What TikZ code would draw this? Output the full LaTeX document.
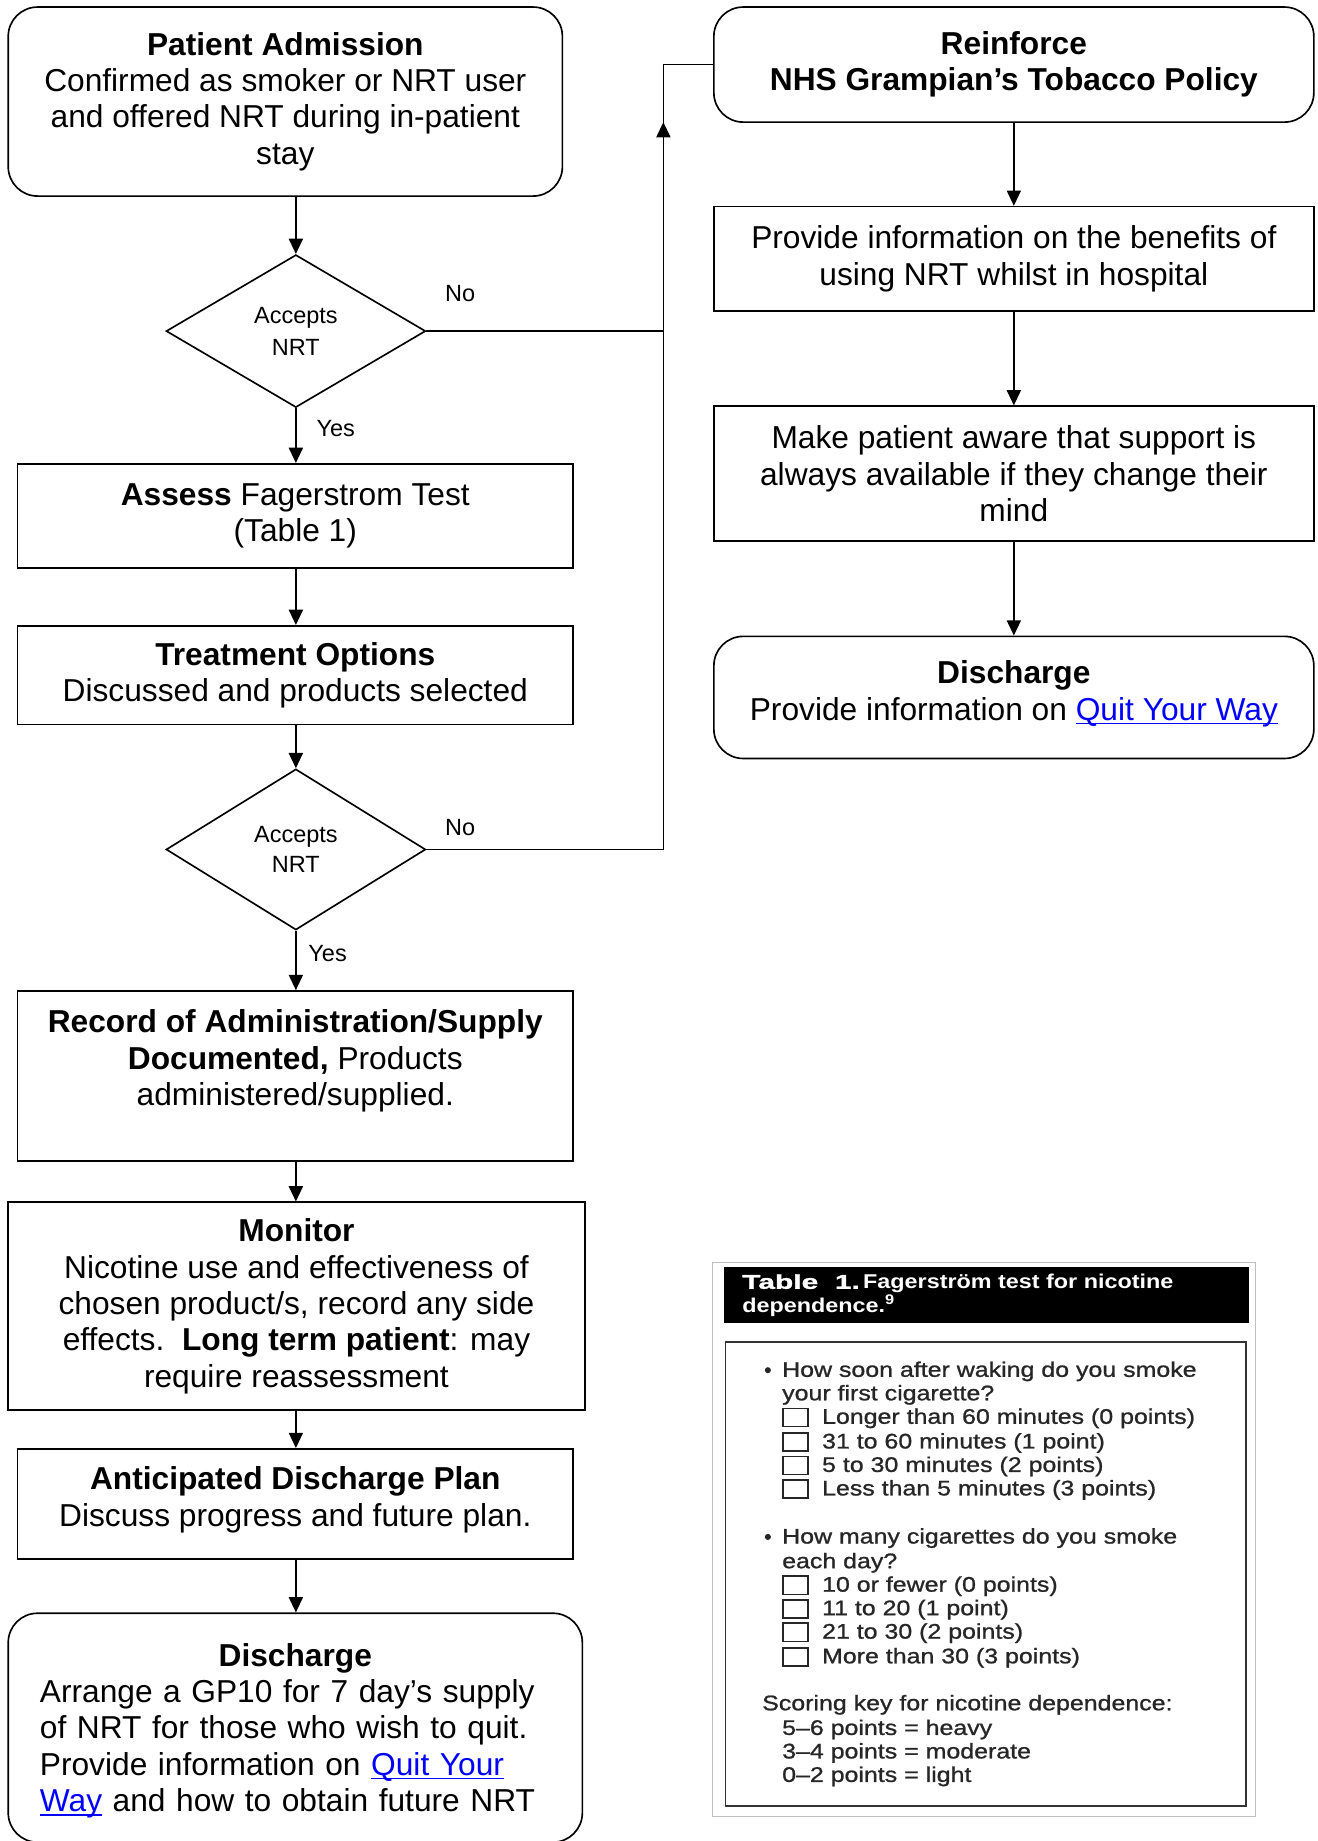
\documentclass[tikz,border=0pt]{standalone}
\usepackage{fontspec}
\setmainfont{Liberation Sans}
\newfontfamily\tblfont[FakeStretch=1.18,FakeBold=1]{Liberation Sans}
\newfontfamily\hdrfont[FakeStretch=1.17]{Liberation Sans}
\newfontfamily\hdrblack[FakeStretch=1.5,FakeBold=1.5]{Liberation Sans Bold}
\usetikzlibrary{shapes.geometric,arrows.meta}
\definecolor{linkblue}{RGB}{0,0,255}
\newsavebox\lnkbox
\newcommand\lnk[1]{\textcolor{linkblue}{\sbox\lnkbox{#1}\rlap{\rule[-3.5pt]{\wd\lnkbox}{1.3pt}}\usebox\lnkbox}}
\begin{document}
\begin{tikzpicture}[x=1pt,y=-1pt,
  box/.style={draw, line width=1.4pt, rectangle, align=center, inner sep=0pt,
    font=\fontsize{27}{31}\selectfont},
  rbox/.style={box, rounded corners=25pt},
  txt/.style={inner sep=0pt, font=\fontsize{27}{31}\selectfont},
  dec/.style={draw, line width=1.4pt, diamond, align=center, inner sep=1pt,
    minimum width=221pt, minimum height=130pt, font=\fontsize{20}{25}\selectfont},
  arr/.style={line width=1.4pt, -{Triangle[length=13pt,width=12pt]}},
  conn/.style={line width=1.4pt},
  lbl/.style={font=\fontsize{20}{24}\selectfont, inner sep=0pt},
  tt/.style={anchor=mid west, inner sep=0pt, text=black!85,
    font=\tblfont\fontsize{18}{20}\selectfont},
  ht/.style={anchor=mid west, inner sep=0pt, text=white,
    font=\hdrfont\bfseries\fontsize{17}{20}\selectfont},
  cbox/.style={draw=black!85, line width=1.3pt}
]
\fill[white] (0,0) rectangle (1122,1568);
\useasboundingbox (0,0) rectangle (1122,1568);

% ---------- left column ----------
\node[rbox, minimum width=472pt, minimum height=161pt] (pa) at (243,86.5)
  {\textbf{Patient Admission}\\Confirmed as smoker or NRT user\\and offered NRT during in-patient\\stay};
\node[dec, font=\fontsize{20}{27}\selectfont] (d1) at (252,282) {Accepts\\NRT};
\node[box, minimum width=473pt, minimum height=89pt] (as) at (251.5,439.5)
  {\textbf{Assess} Fagerstrom Test\\(Table 1)};
\node[box, minimum width=473pt, minimum height=84pt] (to) at (251.5,575)
  {\textbf{Treatment Options}\\Discussed and products selected};
\node[dec, minimum height=137pt] (d2) at (252,723.5) {Accepts\\NRT};
\node[box, minimum width=473pt, minimum height=145pt] (rec) at (251.5,916.5)
  {\textbf{Record of Administration/Supply}\\\textbf{Documented,} Products\\administered/supplied.\\\mbox{}};
\node[box, minimum width=491pt, minimum height=177pt] (mon) at (252.5,1112.5)
  {\textbf{Monitor}\\Nicotine use and effectiveness of\\chosen product/s, record any side\\effects.\ \ \textbf{Long term patient}: may\\require reassessment};
\node[box, minimum width=473pt, minimum height=94pt] (adp) at (251.5,1281)
  {\textbf{Anticipated Discharge Plan}\\Discuss progress and future plan.\\[-18pt]\mbox{}};
\node[rbox, minimum width=489pt, minimum height=195pt] (dis) at (251.5,1471.5) {};
\node[txt, align=left, text width=435pt] (dist) at (251.5,1474)
  {\makebox[435pt][c]{\textbf{Discharge}}\\
   Arrange a GP10 for 7 day’s supply\\
   of NRT for those who wish to quit.\\
   Provide information on \lnk{Quit Your}\\
   \lnk{Way} and how to obtain future NRT};

% ---------- right column ----------
\node[rbox, minimum width=511pt, minimum height=98pt] (rf) at (863.5,55)
  {\textbf{Reinforce}\\\textbf{NHS Grampian’s Tobacco Policy}};
\node[box, minimum width=511pt, minimum height=89pt] (pi) at (863.5,220.5)
  {Provide information on the benefits of\\using NRT whilst in hospital};
\node[box, minimum width=511pt, minimum height=115pt] (mp) at (863.5,403.5)
  {Make patient aware that support is\\always available if they change their\\mind};
\node[rbox, minimum width=511pt, minimum height=104pt] (dr) at (863.5,594) {};
\node[txt, align=center] (drt) at (863.5,591)
  {\textbf{Discharge}\\Provide information on \lnk{Quit Your Way}};

% ---------- connectors ----------
\draw[arr] (pa.south -| d1.north) -- (d1.north);
\draw[arr] (d1.south) -- (d1.south |- as.north);
\draw[arr] (as.south -| d1.south) -- (d1.south |- to.north);
\draw[arr] (to.south -| d2.north) -- (d2.north);
\draw[arr] (d2.south) -- (d2.south |- rec.north);
\draw[arr] (rec.south -| d2.south) -- (d2.south |- mon.north);
\draw[arr] (mon.south -| d2.south) -- (d2.south |- adp.north);
\draw[arr] (adp.south -| d2.south) -- (d2.south |- dis.north);

\draw[arr] (rf.south) -- (pi.north);
\draw[arr] (pi.south) -- (mp.north);
\draw[arr] (mp.south) -- (dr.north);

\coordinate (jt) at (565,55);
\coordinate (jm) at (565,104);
\draw[conn] (d2.east) -| (jt) -- (rf.west);
\draw[conn] (d1.east) -- (d1.east -| jt);
\draw[arr] (d1.east -| jt) -- (jm);

\node[lbl] (no1) at (392,250) {No};
\node[lbl] (no2) at (392,705) {No};
\node[lbl] (yes1) at (286,365) {Yes};
\node[lbl] (yes2) at (279,812) {Yes};

% ---------- Table 1 ----------
\draw[black!25, line width=0.8pt] (607,1075) rectangle (1069,1547);
\fill[black] (617,1079) rectangle (1064,1127);
\node[ht] (h1) at (632,1095) {{\hdrblack Table\ \ 1.}\,Fagerstr\"om test for nicotine};
\node[ht] (h2) at (632,1115) {dependence.\textsuperscript{9}};
\draw[black!80, line width=1.5pt] (618,1143) rectangle (1061,1538);

\fill[black!85] (654,1167) circle (2.6);
\node[tt] (q1a) at (666,1170) {How soon after waking do you smoke};
\node[tt] (q1b) at (666,1190) {your first cigarette?};
\node[tt] (a11) at (700,1210) {Longer than 60 minutes (0 points)};
\node[tt] (a12) at (700,1231) {31 to 60 minutes (1 point)};
\node[tt] (a13) at (700,1251) {5 to 30 minutes (2 points)};
\node[tt] (a14) at (700,1271) {Less than 5 minutes (3 points)};
\foreach \yy in {1207,1228,1248,1268,1350,1370,1390,1411}
  \draw[cbox] (667,\yy-7.5) rectangle (688,\yy+8);
\fill[black!85] (654,1309) circle (2.6);
\node[tt] (q2a) at (666,1312) {How many cigarettes do you smoke};
\node[tt] (q2b) at (666,1333) {each day?};
\node[tt] (a21) at (700,1353) {10 or fewer (0 points)};
\node[tt] (a22) at (700,1373) {11 to 20 (1 point)};
\node[tt] (a23) at (700,1393) {21 to 30 (2 points)};
\node[tt] (a24) at (700,1414) {More than 30 (3 points)};
\node[tt] (sk) at (649,1454) {Scoring key for nicotine dependence:};
\node[tt] (s1) at (666,1475) {5–6 points = heavy};
\node[tt] (s2) at (666,1495) {3–4 points = moderate};
\node[tt] (s3) at (666,1515) {0–2 points = light};
\end{tikzpicture}
\end{document}
